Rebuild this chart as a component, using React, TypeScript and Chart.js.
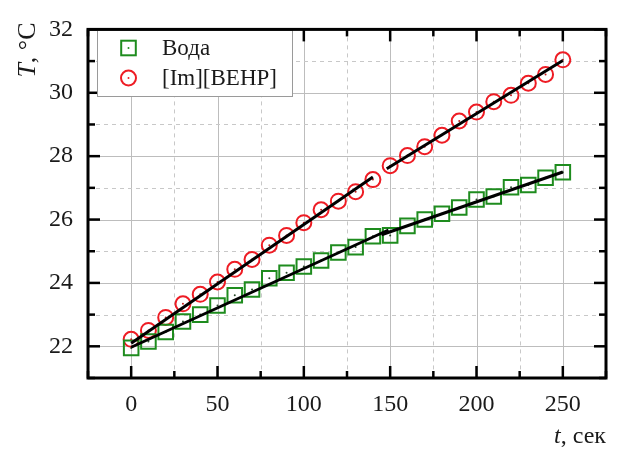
import React, { useEffect, useRef } from "react";
import { Chart, registerables } from "chart.js";

Chart.register(...registerables);

// ---- data ----
const tSec = [0, 10, 20, 30, 40, 50, 60, 70, 80, 90, 100, 110, 120, 130, 140, 150, 160, 170, 180, 190, 200, 210, 220, 230, 240, 250];
const waterT = [21.95, 22.15, 22.45, 22.78, 23.0, 23.29, 23.61, 23.79, 24.15, 24.32, 24.52, 24.71, 24.96, 25.13, 25.47, 25.5, 25.8, 26.0, 26.18, 26.38, 26.63, 26.73, 27.02, 27.09, 27.32, 27.49];
const ilT = [22.22, 22.5, 22.91, 23.34, 23.64, 24.03, 24.43, 24.74, 25.19, 25.5, 25.9, 26.31, 26.58, 26.88, 27.26, 27.7, 28.02, 28.3, 28.66, 29.11, 29.39, 29.72, 29.92, 30.3, 30.58, 31.04];

const waterFit1T = [0, 149];
const waterFit1 = [21.97, 25.67];
const waterFit2T = [145, 250];
const waterFit2 = [25.52, 27.5];
const ilFit1T = [0, 140];
const ilFit1 = [22.1, 27.34];
const ilFit2T = [148, 250];
const ilFit2 = [27.6, 31.02];

const xTicks = [0, 50, 100, 150, 200, 250];
const xMinor = [-25, 25, 75, 125, 175, 225, 275];
const yTicks = [22, 24, 26, 28, 30, 32];
const yMinor = [21, 23, 25, 27, 29, 31];

const seriesLabels = ["Вода", "[Im][BEHP]"];
const GREEN = "#1e8c1e";
const RED = "#ee1c24";
const SERIF = "'Liberation Serif', 'Times New Roman', serif";

const pts = (xs: number[], ys: number[]) => xs.map((x, i) => ({ x, y: ys[i] }));

const decorPlugin = {
  id: "decor",
  beforeDatasetsDraw(chart: any) {
    const { ctx, chartArea: a, scales } = chart;
    const xs = scales.x, ys = scales.y;
    ctx.save();
    ctx.lineWidth = 1;
    ctx.strokeStyle = "#bdbdbd";
    ctx.setLineDash([]);
    for (const v of xTicks) {
      const px = Math.round(xs.getPixelForValue(v)) + 0.5;
      ctx.beginPath(); ctx.moveTo(px, a.top); ctx.lineTo(px, a.bottom); ctx.stroke();
    }
    for (const v of yTicks) {
      const py = Math.round(ys.getPixelForValue(v)) + 0.5;
      ctx.beginPath(); ctx.moveTo(a.left, py); ctx.lineTo(a.right, py); ctx.stroke();
    }
    ctx.strokeStyle = "#c8c8c8";
    ctx.setLineDash([4, 4]);
    for (const v of xMinor) {
      const px = Math.round(xs.getPixelForValue(v)) + 0.5;
      ctx.beginPath(); ctx.moveTo(px, a.top); ctx.lineTo(px, a.bottom); ctx.stroke();
    }
    for (const v of yMinor) {
      const py = Math.round(ys.getPixelForValue(v)) + 0.5;
      ctx.beginPath(); ctx.moveTo(a.left, py); ctx.lineTo(a.right, py); ctx.stroke();
    }
    ctx.restore();
  },
  afterDatasetsDraw(chart: any) {
    const { ctx, chartArea: a, scales } = chart;
    const xs = scales.x, ys = scales.y;
    ctx.save();
    ctx.setLineDash([]);
    ctx.strokeStyle = "#000";
    ctx.lineWidth = 2.5;
    const tickX = (v: number, len: number) => {
      const px = xs.getPixelForValue(v);
      ctx.beginPath(); ctx.moveTo(px, a.bottom); ctx.lineTo(px, a.bottom - len); ctx.stroke();
      ctx.beginPath(); ctx.moveTo(px, a.top); ctx.lineTo(px, a.top + len); ctx.stroke();
    };
    const tickY = (v: number, len: number) => {
      const py = ys.getPixelForValue(v);
      ctx.beginPath(); ctx.moveTo(a.left, py); ctx.lineTo(a.left + len, py); ctx.stroke();
      ctx.beginPath(); ctx.moveTo(a.right, py); ctx.lineTo(a.right - len, py); ctx.stroke();
    };
    xTicks.forEach((v) => tickX(v, 12));
    xMinor.forEach((v) => tickX(v, 7));
    yTicks.forEach((v) => tickY(v, 12));
    yMinor.forEach((v) => tickY(v, 7));

    // legend
    const lx = 97, ly = 30, lw = 195, lh = 66;
    ctx.fillStyle = "#fff";
    ctx.fillRect(lx, ly, lw, lh);
    ctx.strokeStyle = "#9a9a9a";
    ctx.lineWidth = 1;
    ctx.strokeRect(lx + 0.5, ly + 0.5, lw, lh);
    const datasets = chart.data.datasets;
    for (let i = 0; i < 2; i++) {
      const ds = datasets[i];
      const cy = ly + 18 + i * 30;
      const cx = 128.5;
      ctx.strokeStyle = ds.borderColor;
      ctx.fillStyle = ds.borderColor;
      ctx.lineWidth = 2;
      if (ds.pointStyle === "rect") {
        ctx.strokeRect(cx - 7.3, cy - 7.3, 14.6, 14.6);
      } else {
        ctx.beginPath(); ctx.arc(cx, cy, 7.5, 0, Math.PI * 2); ctx.stroke();
      }
      ctx.beginPath(); ctx.arc(cx, cy, 1, 0, Math.PI * 2); ctx.fill();
      ctx.fillStyle = "#1a1a1a";
      ctx.font = `23px ${SERIF}`;
      ctx.textAlign = "left";
      ctx.textBaseline = "middle";
      ctx.fillText(ds.label, 162, cy + 1);
    }

    // frame
    ctx.strokeStyle = "#000";
    ctx.lineWidth = 3;
    ctx.strokeRect(a.left, a.top, a.right - a.left, a.bottom - a.top);

    // axis titles
    ctx.fillStyle = "#1a1a1a";
    ctx.textBaseline = "middle";
    ctx.save();
    ctx.translate(28, 50);
    ctx.rotate(-Math.PI / 2);
    ctx.font = `italic 26px ${SERIF}`;
    const wT = ctx.measureText("T").width;
    ctx.font = `26px ${SERIF}`;
    const wRest = ctx.measureText(", °C").width;
    const start = -(wT + wRest) / 2;
    ctx.textAlign = "left";
    ctx.font = `italic 26px ${SERIF}`;
    ctx.fillText("T", start, 0);
    ctx.font = `26px ${SERIF}`;
    ctx.fillText(", °C", start + wT, 0);
    ctx.restore();
    ctx.textAlign = "right";
    ctx.font = `24px ${SERIF}`;
    const wSek = ctx.measureText(", сек").width;
    ctx.fillText(", сек", a.right, 437);
    ctx.font = `italic 24px ${SERIF}`;
    ctx.fillText("t", a.right - wSek, 437);
    ctx.restore();
  },
};

export default function App() {
  const ref = useRef<HTMLCanvasElement | null>(null);
  useEffect(() => {
    if (!ref.current) return;
    const chart = new Chart(ref.current, {
      type: "scatter",
      data: {
        datasets: [
          {
            label: seriesLabels[0],
            data: pts(tSec, waterT),
            pointStyle: "rect",
            pointRadius: 10.3,
            pointBorderWidth: 2,
            borderColor: GREEN,
            backgroundColor: "rgba(0,0,0,0)",
            showLine: false,
            order: 3,
          },
          {
            label: seriesLabels[1],
            data: pts(tSec, ilT),
            pointStyle: "circle",
            pointRadius: 7.5,
            pointBorderWidth: 2,
            borderColor: RED,
            backgroundColor: "rgba(0,0,0,0)",
            showLine: false,
            order: 3,
          },
          {
            label: "dots1",
            data: pts(tSec, waterT),
            pointStyle: "circle",
            pointRadius: 1,
            pointBorderWidth: 0,
            borderColor: GREEN,
            backgroundColor: "#2a4a2a",
            showLine: false,
            order: 2,
          },
          {
            label: "dots2",
            data: pts(tSec, ilT),
            pointStyle: "circle",
            pointRadius: 1,
            pointBorderWidth: 0,
            borderColor: RED,
            backgroundColor: "#c02020",
            showLine: false,
            order: 2,
          },
          ...[
            pts(waterFit1T, waterFit1),
            pts(waterFit2T, waterFit2),
            pts(ilFit1T, ilFit1),
            pts(ilFit2T, ilFit2),
          ].map((d, i) => ({
            label: "fit" + i,
            data: d,
            showLine: true,
            pointRadius: 0,
            borderColor: "#000",
            borderWidth: 3,
            backgroundColor: "#000",
            order: 1,
          })),
        ],
      },
      options: {
        animation: false,
        responsive: false,
        devicePixelRatio: 1,
        layout: { padding: { top: 17, right: 15, left: 0, bottom: 0 } },
        plugins: { legend: { display: false }, tooltip: { enabled: false } },
        scales: {
          x: {
            type: "linear",
            min: -25,
            max: 275,
            afterBuildTicks: (s: any) => {
              s.ticks = xTicks.map((v) => ({ value: v }));
            },
            afterFit: (s: any) => {
              s.height = 71;
            },
            grid: { display: false, drawTicks: false },
            border: { display: false },
            ticks: {
              padding: 12,
              autoSkip: false,
              maxRotation: 0,
              color: "#1a1a1a",
              font: { family: SERIF, size: 24 },
            },
          },
          y: {
            type: "linear",
            min: 21,
            max: 32,
            afterBuildTicks: (s: any) => {
              s.ticks = yTicks.map((v) => ({ value: v }));
            },
            afterFit: (s: any) => {
              s.width = 88;
            },
            grid: { display: false, drawTicks: false },
            border: { display: false },
            ticks: {
              padding: 15,
              autoSkip: false,
              color: "#1a1a1a",
              font: { family: SERIF, size: 24 },
            },
          },
        },
      },
      plugins: [decorPlugin],
    } as any);
    return () => chart.destroy();
  }, []);
  return (
    <div style={{ position: "absolute", left: 0, top: 0, width: 621, height: 449, background: "#fff" }}>
      <canvas ref={ref} width={621} height={449} />
    </div>
  );
}
